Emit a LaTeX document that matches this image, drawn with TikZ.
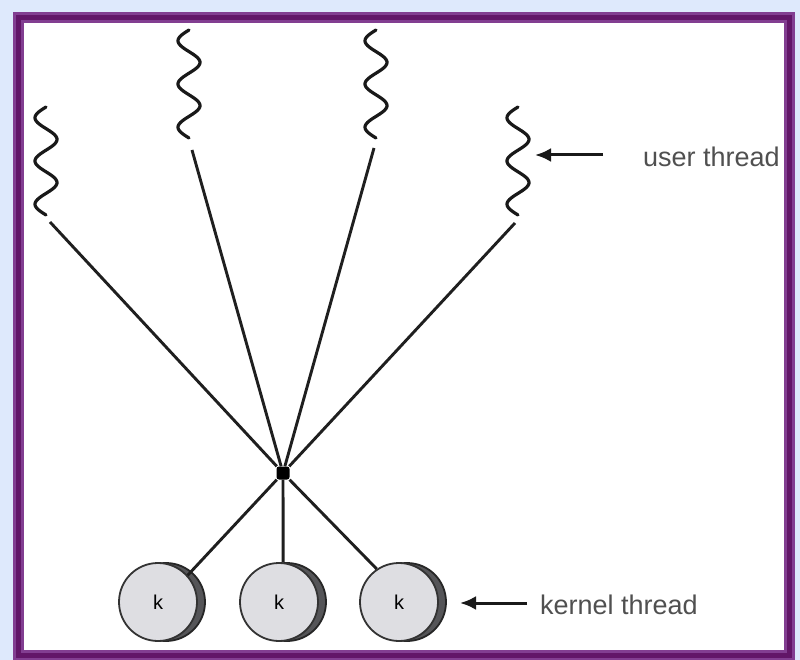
\documentclass[tikz,border=0pt]{standalone}
\usepackage{fontspec}
\setmainfont{Liberation Sans}
\usetikzlibrary{arrows.meta}
\definecolor{glow}{RGB}{222,233,252}
\definecolor{frameA}{RGB}{130,62,145}
\definecolor{frameB}{RGB}{98,22,104}
\definecolor{kfill}{RGB}{222,222,226}
\definecolor{kshadow}{RGB}{85,85,88}
\definecolor{txt}{RGB}{80,80,80}
\begin{document}
\begin{tikzpicture}[x=1pt,y=-1pt,
  wave/.style={line width=3.2pt, color=black!90, line cap=round},
  conn/.style={line width=2.9pt, color=black!88},
  kthread/.style={circle, draw=black!80, line width=1.8pt, fill=kfill, minimum size=78pt, inner sep=0pt, font=\fontsize{20}{22}\selectfont},
  kshad/.style={circle, draw=black!85, line width=1.8pt, fill=kshadow, minimum size=78pt, inner sep=0pt},
  pointer/.style={line width=3pt, color=black!90, -{Latex[length=16pt,width=14pt]}},
  lbl/.style={anchor=west, text=txt, font=\fontsize{27}{29}\selectfont, inner sep=0pt}
]
\useasboundingbox (0,0) rectangle (800,660);
% frame
\fill[glow] (0,0) rectangle (800,660);
\fill[white] (18,18) rectangle (789,655);
\draw[frameA, line width=11pt] (18,18) rectangle (789,655);
\draw[frameB, line width=5pt] (18,18) rectangle (789,655);
% user threads (wavy)
\draw[wave] plot[domain=0:108, samples=90, smooth] ({46 - 11*sin(\x*8.3333)}, {107+\x});
\draw[wave] plot[domain=0:108, samples=90, smooth] ({189 - 11*sin(\x*8.3333)}, {30+\x});
\draw[wave] plot[domain=0:108, samples=90, smooth] ({376 - 11*sin(\x*8.3333)}, {30+\x});
\draw[wave] plot[domain=0:108, samples=90, smooth] ({518 - 11*sin(\x*8.3333)}, {107+\x});
\coordinate (u1) at (50,222);
\coordinate (u2) at (192,150);
\coordinate (u3) at (374,148);
\coordinate (u4) at (515,223);
% hub
\node[fill=black, minimum size=13pt, inner sep=0pt, rounded corners=2.5pt] (hub) at (283,473) {};
% kernel threads
\node[kshad] (s1) at (166,602) {};
\node[kshad] (s2) at (287,602) {};
\node[kshad] (s3) at (407,602) {};
\node[kthread] (k1) at (158,602) {k};
\node[kthread] (k2) at (279,602) {k};
\node[kthread] (k3) at (399,602) {k};
% connectors
\draw[conn] (u1) -- (hub);
\draw[conn] (u2) -- (hub);
\draw[conn] (u3) -- (hub);
\draw[conn] (u4) -- (hub);
\draw[conn] (hub) -- (k1.42);
\draw[conn] (hub) -- (k2.84);
\draw[conn] (hub) -- (k3.124);
% labels
\coordinate (ua) at (603,155);
\coordinate (ut) at (535,155);
\coordinate (ka) at (527,603);
\coordinate (kt) at (460,603);
\draw[pointer] (ua) -- (ut);
\draw[pointer] (ka) -- (kt);
\node[lbl] (ulbl) at (643,157) {user thread};
\node[lbl] (klbl) at (540,605) {kernel thread};
\end{tikzpicture}
\end{document}
